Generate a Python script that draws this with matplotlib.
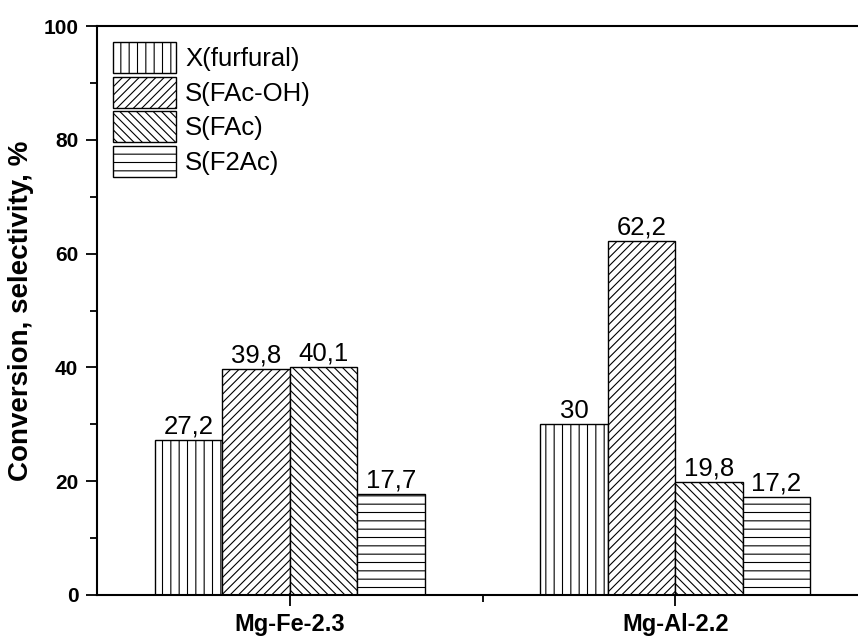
import numpy as np
import matplotlib.pyplot as plt
from matplotlib.ticker import MultipleLocator, FixedLocator

plt.rcParams['font.family'] = ['Liberation Sans', 'DejaVu Sans']
plt.rcParams['hatch.linewidth'] = 0.8

# data
catalysts = ['Mg-Fe-2.3', 'Mg-Al-2.2']
series = ['X(furfural)', 'S(FAc-OH)', 'S(FAc)', 'S(F2Ac)']
x_furfural = [27.2, 30.0]
s_facoh = [39.8, 62.2]
s_fac = [40.1, 19.8]
s_f2ac = [17.7, 17.2]
value_labels = [['27,2', '30'], ['39,8', '62,2'], ['40,1', '19,8'], ['17,7', '17,2']]

hatches = ['||', '////', '\\\\\\\\', '--']
values = [x_furfural, s_facoh, s_fac, s_f2ac]

fig = plt.figure(figsize=(8.58, 6.37), dpi=100)
ax = fig.add_axes([97 / 858, 1 - 595 / 637, 771 / 858, 569 / 637])

x = np.arange(len(catalysts))
w = 0.175
for i, (vals, h, lab) in enumerate(zip(values, hatches, series)):
  pos = x + (i - 1.5) * w
  bars = ax.bar(pos, vals, w, color='white', edgecolor='black', linewidth=1.0,
                hatch=h, label=lab)
  for b, txt in zip(bars, value_labels[i]):
    ax.annotate(txt, (b.get_x() + b.get_width() / 2, b.get_height()),
                xytext=(0, 1), textcoords='offset points',
                ha='center', va='bottom', fontsize=18.5)

ax.set_xlim(-0.5, 1.5)
ax.set_ylim(0, 100)
ax.set_xticks(x)
ax.set_xticklabels(catalysts, fontsize=17, fontweight='bold')
ax.xaxis.set_minor_locator(FixedLocator([0.5]))
ax.yaxis.set_major_locator(MultipleLocator(20))
ax.yaxis.set_minor_locator(MultipleLocator(10))
for lbl in ax.get_yticklabels():
  lbl.set_fontweight('bold')
  lbl.set_fontsize(15)
ax.tick_params(which='major', direction='out', length=8, width=1.3)
ax.tick_params(which='minor', direction='out', length=5, width=1.3)
ax.tick_params(axis='y', which='major', pad=5.5)
ax.tick_params(axis='x', which='major', pad=5)
ax.tick_params(axis='y', which='both', right=False)
for s in ax.spines.values():
  s.set_linewidth(1.5)

# label anchored by its right edge (rotated text, va='bottom')
ax.set_ylabel('Conversion, selectivity, %', fontsize=20, fontweight='bold')
ax.yaxis.set_label_coords((34 - 97) / 771, 0.5)

ax.legend(loc='upper left', bbox_to_anchor=(16 / 771, 1 - 16 / 569), borderaxespad=0,
          borderpad=0, frameon=False, fontsize=18.5, handlelength=2.45, handleheight=1.48,
          labelspacing=0.14, handletextpad=0.35)

fig.savefig('out.png', dpi=100)
